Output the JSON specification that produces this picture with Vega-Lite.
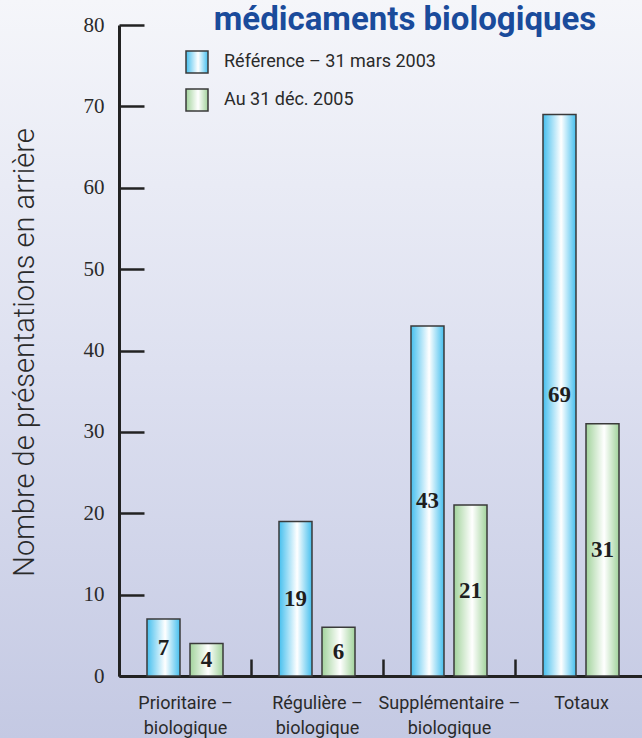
{
  "$schema": "https://vega.github.io/schema/vega-lite/v6.json",
  "width": 642,
  "height": 738,
  "autosize": {"type": "none"},
  "padding": 0,
  "background": "#eef0f8",
  "view": {
    "stroke": null,
    "fill": {
      "gradient": "linear",
      "x1": 0, "y1": 0, "x2": 0, "y2": 1,
      "stops": [
        {"offset": 0, "color": "#f5f6fa"},
        {"offset": 0.5, "color": "#dde0f0"},
        {"offset": 1, "color": "#c4c9e3"}
      ]
    }
  },
  "title": {
    "text": "médicaments biologiques",
    "font": "Roboto",
    "fontWeight": "bold",
    "fontSize": 33,
    "color": "#1a4b9b",
    "anchor": "middle",
    "frame": "group",
    "offset": -63,
    "baseline": "alphabetic",
    "dx": 84
  },
  "data": {
    "values": [
      {"categorie": "Prioritaire –\nbiologique", "serie": "Référence – 31 mars 2003", "valeur": 7},
      {"categorie": "Prioritaire –\nbiologique", "serie": "Au 31 déc. 2005", "valeur": 4},
      {"categorie": "Régulière –\nbiologique", "serie": "Référence – 31 mars 2003", "valeur": 19},
      {"categorie": "Régulière –\nbiologique", "serie": "Au 31 déc. 2005", "valeur": 6},
      {"categorie": "Supplémentaire –\nbiologique", "serie": "Référence – 31 mars 2003", "valeur": 43},
      {"categorie": "Supplémentaire –\nbiologique", "serie": "Au 31 déc. 2005", "valeur": 21},
      {"categorie": "Totaux", "serie": "Référence – 31 mars 2003", "valeur": 69},
      {"categorie": "Totaux", "serie": "Au 31 déc. 2005", "valeur": 31}
    ]
  },
  "encoding": {
    "x": {
      "field": "categorie",
      "type": "nominal",
      "sort": null,
      "scale": {"range": [119, 647], "paddingInner": 0, "paddingOuter": 0},
      "axis": {
        "title": null,
        "orient": "bottom",
        "offset": -62,
        "labelAngle": 0,
        "labelExpr": "split(datum.label, '\\n')",
        "labelFont": "Roboto",
        "labelFontSize": 18,
        "labelColor": "#2a2a2a",
        "labelLineHeight": 25,
        "labelPadding": 35,
        "labelBaseline": "top",
        "labelLimit": 0,
        "domainColor": "#222222",
        "domainWidth": 3,
        "tickBand": "extent",
        "tickColor": "#222222",
        "tickWidth": 2.5,
        "tickSize": -17
      }
    },
    "xOffset": {
      "field": "serie",
      "type": "nominal",
      "sort": null,
      "scale": {
        "domain": ["Référence – 31 mars 2003", "Au 31 déc. 2005"],
        "paddingInner": 0.2326,
        "paddingOuter": 0.651
      }
    },
    "y": {
      "field": "valeur",
      "type": "quantitative",
      "scale": {"domain": [0, 80], "range": [676, 25], "nice": false},
      "axis": {
        "title": "Nombre de présentations en arrière",
        "titleFont": "Roboto",
        "titleFontWeight": 300,
        "titleFontSize": 29,
        "titleColor": "#2a2a2a",
        "titleAngle": -90,
        "titleX": -95,
        "titleY": 352,
        "titleAlign": "center",
        "titleBaseline": "middle",
        "titleLimit": 0,
        "orient": "left",
        "offset": -119,
        "values": [0, 10, 20, 30, 40, 50, 60, 70, 80],
        "grid": false,
        "labelFont": "Liberation Serif",
        "labelFontSize": 21,
        "labelColor": "#2a2a2a",
        "labelPadding": 40,
        "domainColor": "#222222",
        "domainWidth": 3,
        "tickColor": "#222222",
        "tickWidth": 2.5,
        "tickSize": -25
      }
    }
  },
  "layer": [
    {
      "transform": [{"filter": "datum.serie === 'Référence – 31 mars 2003'"}],
      "mark": {
        "type": "bar",
        "strokeWidth": 1.5,
        "fill": {
          "gradient": "linear",
          "x1": 0, "y1": 0, "x2": 1, "y2": 0,
          "stops": [
            {"offset": 0, "color": "#45bfee"},
            {"offset": 0.55, "color": "#ffffff"},
            {"offset": 1, "color": "#45bfee"}
          ]
        }
      },
      "encoding": {
        "stroke": {
          "field": "serie",
          "type": "nominal",
          "scale": {"domain": ["Référence – 31 mars 2003"], "range": ["#3a3a3a"]},
          "legend": {
            "title": null,
            "orient": "none",
            "legendX": 185,
            "legendY": 50,
            "symbolType": "square",
            "symbolSize": 484,
            "symbolStrokeWidth": 1.5,
            "labelFont": "Roboto",
            "labelFontSize": 18,
            "labelColor": "#2a2a2a",
            "labelOffset": 15,
            "labelLimit": 0,
            "encode": {
              "symbols": {
                "update": {
                  "fill": {
                    "value": {
                      "gradient": "linear",
                      "x1": 0, "y1": 0, "x2": 1, "y2": 0,
                      "stops": [
                        {"offset": 0, "color": "#45bfee"},
                        {"offset": 0.55, "color": "#ffffff"},
                        {"offset": 1, "color": "#45bfee"}
                      ]
                    }
                  },
                  "fillOpacity": {"value": 1}
                }
              }
            }
          }
        }
      }
    },
    {
      "transform": [{"filter": "datum.serie === 'Au 31 déc. 2005'"}],
      "mark": {
        "type": "bar",
        "strokeWidth": 1.5,
        "fill": {
          "gradient": "linear",
          "x1": 0, "y1": 0, "x2": 1, "y2": 0,
          "stops": [
            {"offset": 0, "color": "#a2d39c"},
            {"offset": 0.55, "color": "#ffffff"},
            {"offset": 1, "color": "#a2d39c"}
          ]
        }
      },
      "encoding": {
        "stroke": {
          "field": "serie",
          "type": "nominal",
          "scale": {"domain": ["Au 31 déc. 2005"], "range": ["#3a3a3a"]},
          "legend": {
            "title": null,
            "orient": "none",
            "legendX": 185,
            "legendY": 88,
            "symbolType": "square",
            "symbolSize": 484,
            "symbolStrokeWidth": 1.5,
            "labelFont": "Roboto",
            "labelFontSize": 18,
            "labelColor": "#2a2a2a",
            "labelOffset": 15,
            "labelLimit": 0,
            "encode": {
              "symbols": {
                "update": {
                  "fill": {
                    "value": {
                      "gradient": "linear",
                      "x1": 0, "y1": 0, "x2": 1, "y2": 0,
                      "stops": [
                        {"offset": 0, "color": "#a2d39c"},
                        {"offset": 0.55, "color": "#ffffff"},
                        {"offset": 1, "color": "#a2d39c"}
                      ]
                    }
                  },
                  "fillOpacity": {"value": 1}
                }
              }
            }
          }
        }
      }
    },
    {
      "transform": [{"calculate": "datum.valeur / 2", "as": "milieu"}],
      "mark": {
        "type": "text",
        "font": "Liberation Serif",
        "fontWeight": "bold",
        "fontSize": 23,
        "baseline": "middle"
      },
      "encoding": {
        "y": {"field": "milieu", "type": "quantitative"},
        "text": {"field": "valeur", "type": "quantitative"},
        "fill": {"value": "#1e1e1e"}
      }
    }
  ],
  "resolve": {
    "scale": {"stroke": "independent"},
    "legend": {"stroke": "independent"}
  }
}
